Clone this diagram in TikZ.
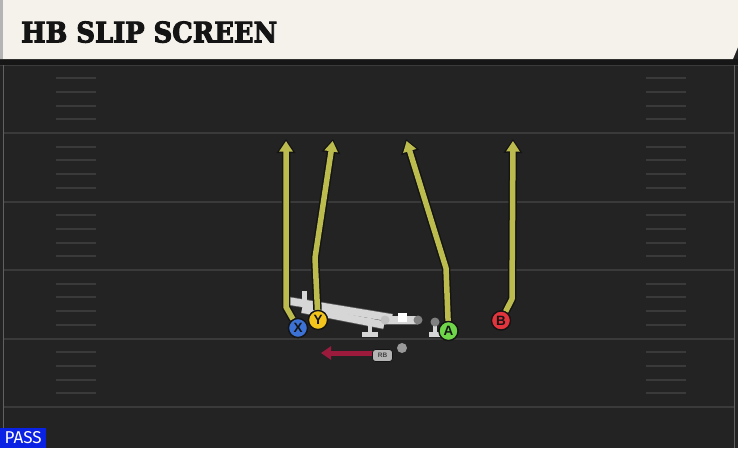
\documentclass[tikz,border=0pt]{standalone}
\usepackage{fontspec}
\usepackage{graphicx}
\usetikzlibrary{arrows.meta}
\newfontfamily\titlefont{DejaVu Serif}[BoldFeatures={FakeBold=3.5}]
\newfontfamily\pf{Liberation Sans}
\newfontfamily\passfont{Fira Sans}
\definecolor{fieldbg}{HTML}{232323}
\definecolor{yardc}{HTML}{3A3A3A}
\definecolor{headc}{HTML}{F5F2EB}
\definecolor{headgray}{HTML}{B4B4B4}
\definecolor{shadowc}{HTML}{161616}
\definecolor{routec}{HTML}{BBBB4E}
\definecolor{routeout}{HTML}{141414}
\definecolor{rbc}{HTML}{9C1B3C}
\definecolor{lmc}{HTML}{D6D6D6}
\definecolor{lmdark}{HTML}{5A5A5A}
\definecolor{passblue}{HTML}{0A22E4}
\definecolor{xblue}{HTML}{3C72D6}
\definecolor{yyellow}{HTML}{F2C41C}
\definecolor{agreen}{HTML}{6FD64A}
\definecolor{bred}{HTML}{E2343C}
\tikzset{
  yard/.style={draw=yardc, line width=2pt},
  hashmark/.style={draw=yardc, line width=2pt},
  routeo/.style={draw=routeout, line width=8.5pt, line join=round, -{Triangle[width=18pt,length=14pt]}},
  routei/.style={draw=routec, line width=5.5pt, line join=round, shorten >=2pt, -{Triangle[width=13pt,length=10.5pt]}},
  player/.style={circle, draw=routeout, line width=1.3pt, minimum size=19pt, inner sep=0pt,
    font={\pf\bfseries\fontsize{13.5}{13.5}\selectfont}, text=routeout},
  barout/.style={draw=lmdark, line width=9pt},
  barin/.style={draw=lmc, line width=7.5pt},
  tpart/.style={draw=lmc, line width=4.5pt},
  rbtag/.style={fill=headgray, draw=routeout, line width=0.8pt, rounded corners=3pt,
    minimum width=20pt, minimum height=12pt, inner sep=0pt,
    font={\pf\bfseries\fontsize{6.5}{6.5}\selectfont}, text=routeout!80},
  rbroute/.style={draw=rbc, line width=5pt, -{Triangle[width=13pt,length=10pt]}}
}
\begin{document}
\begin{tikzpicture}[x=1pt,y=-1pt]
\useasboundingbox (0,0) rectangle (738,448);
\fill[fieldbg] (0,0) rectangle (738,448);
% header
\fill[shadowc] (0,59) rectangle (738,65);
\fill[headc] (0,0) -- (738,0) -- (738,47) -- (733,59) -- (0,59) -- cycle;
\fill[headgray] (0,0) rectangle (3,59);
\node[anchor=south west, inner sep=0pt, text=routeout] (title) at (21,43)
  {\resizebox{256pt}{21pt}{\titlefont\bfseries HB SLIP SCREEN}};
% field borders
\draw[yardc, line width=1pt] (0,65.5) -- (738,65.5);
\draw[yardc!80, line width=1pt] (3.5,65) -- (3.5,448);
\draw[yardc!80, line width=1pt] (734.5,65) -- (734.5,448);
% yard lines
\foreach \y in {133,201.5,270,338.5,407} \draw[yard] (4,\y) -- (734,\y);
% hash marks
\foreach \s in {64.5,133,201.5,270,338.5} {
  \foreach \k in {1,2,3,4} {
    \pgfmathsetmacro\yy{\s+13.7*\k}
    \draw[hashmark] (56,\yy) -- (96,\yy);
    \draw[hashmark] (646,\yy) -- (686,\yy);
  }
}
% offensive line
\draw[barout] (286,300.5) -- (392,318);
\draw[barout] (302,309) -- (384,325);
\draw[barout] (384,320) -- (418,320);
\draw[barin] (286,300.5) -- (392,318);
\draw[barin] (302,309) -- (384,325);
\draw[barin] (384,320) -- (418,320);
\draw[tpart] (286.5,299) -- (288,309);
\fill[lmc] (301.5,291) rectangle (307,300);
\fill[lmc] (315,294) rectangle (321,302);
\fill[white] (397.5,313) rectangle (406.5,322);
\fill[lmc!90!black] (385,320) circle (4.5pt);
\fill[gray] (418,320) circle (4.5pt);
% linemen T shapes
\draw[tpart] (370,322) -- (370,334);
\draw[tpart] (362,334.5) -- (378,334.5);
\fill[lmc] (369.5,322) circle (4.3pt);
\draw[tpart] (435,323) -- (435,334);
\draw[tpart] (429,334.5) -- (441,334.5);
\fill[gray] (435,322) circle (4.5pt);
% QB / ball marker
\fill[gray!80] (402,348) circle (5pt);
% players
\node[player, fill=xblue] (X) at (298,328) {X};
\node[player, fill=yyellow] (Y) at (318,320) {Y};
\node[player, fill=agreen] (A) at (448.5,331) {A};
\node[player, fill=bred] (B) at (501,320.5) {B};
% route ends
\coordinate (xb) at (286,307);
\coordinate (xe) at (286,139);
\coordinate (yb) at (315,258);
\coordinate (ye) at (333,139);
\coordinate (ab) at (446,268);
\coordinate (ae) at (406,139);
\coordinate (bb) at (512,299);
\coordinate (be) at (513,139);
% routes (outline, then fill)
\draw[routeo] (X) -- (xb) -- (xe);
\draw[routeo] (Y) -- (yb) -- (ye);
\draw[routeo] (A) -- (ab) -- (ae);
\draw[routeo] (B) -- (bb) -- (be);
\draw[routei] (X) -- (xb) -- (xe);
\draw[routei] (Y) -- (yb) -- (ye);
\draw[routei] (A) -- (ab) -- (ae);
\draw[routei] (B) -- (bb) -- (be);
% redraw players on top
\node[player, fill=xblue] at (X) {X};
\node[player, fill=yyellow] at (Y) {Y};
\node[player, fill=agreen] at (A) {A};
\node[player, fill=bred] at (B) {B};
% RB
\coordinate (rbs) at (380,353);
\coordinate (rbtip) at (321,353);
\draw[rbroute] (rbs) -- (rbtip);
\node[rbtag] (rb) at (382.5,355.5) {RB};
% PASS label
\node[fill=passblue, anchor=south west, minimum width=46pt, minimum height=20pt, inner sep=0pt,
  text=white] (pass) at (0,448) {\resizebox{37pt}{12pt}{\passfont PASS}};
\end{tikzpicture}
\end{document}
